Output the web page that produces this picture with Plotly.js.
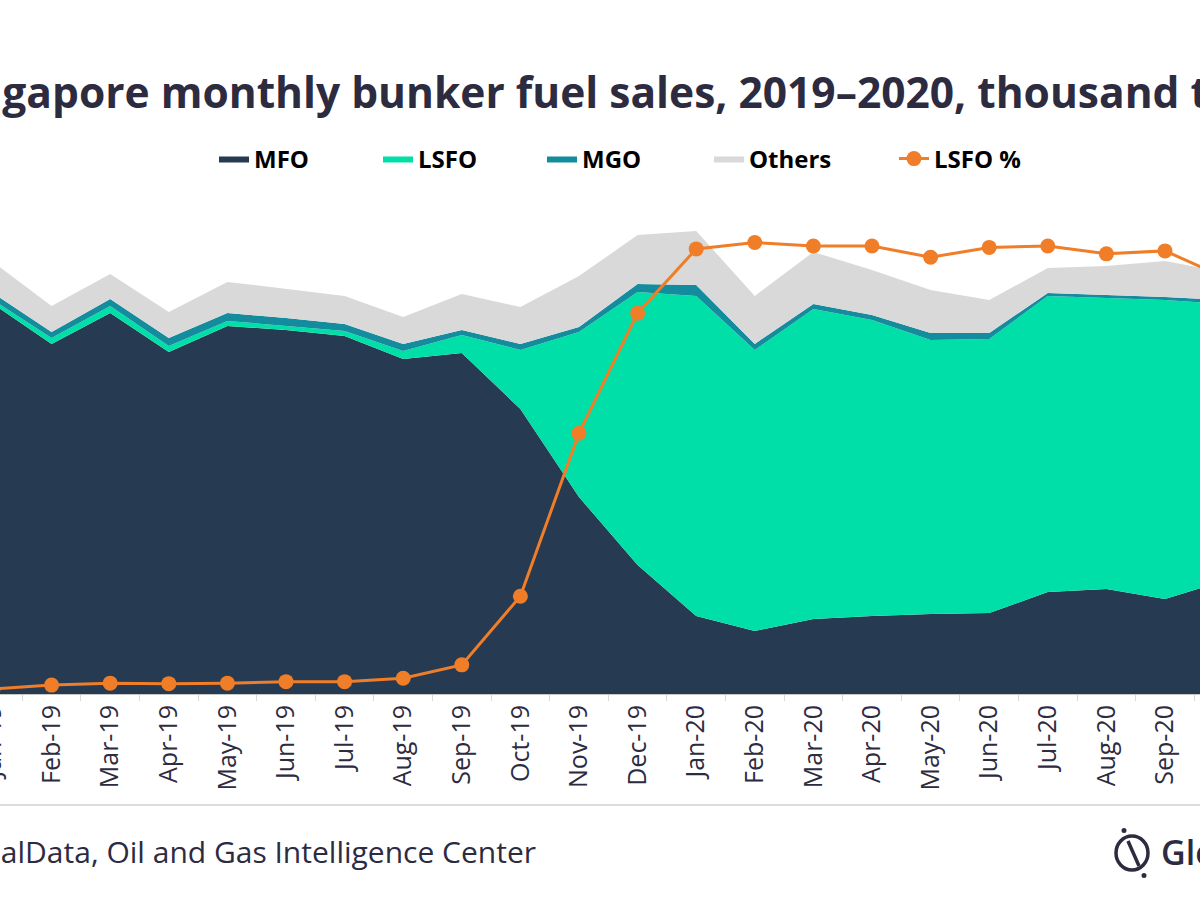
<!DOCTYPE html>
<html>
<head>
<meta charset="utf-8">
<script src="https://cdn.plot.ly/plotly-3.0.1.min.js"></script>
<style>
  html, body { margin:0; padding:0; width:1200px; height:900px; overflow:hidden; background:#fff; }
  #wrap { position:absolute; left:-200px; top:0; width:1500px; height:900px; }
</style>
</head>
<body>
<div id="wrap"></div>
<script>
// Data (thousand tonnes)
const months = ['Jan-19','Feb-19','Mar-19','Apr-19','May-19','Jun-19','Jul-19','Aug-19','Sep-19','Oct-19','Nov-19','Dec-19',
                'Jan-20','Feb-20','Mar-20','Apr-20','May-20','Jun-20','Jul-20','Aug-20','Sep-20','Oct-20'];
const mfo    = [3632,3259,3548,3185,3427,3390,3334,3120,3175,2654,1834,1201, 726, 587, 698, 726, 745, 754, 950, 978, 885,1052];
const lsfo   = [  37,  56,  65,  56,  47,  37,  47,  74, 168, 549,1536,2542,2980,2617,2887,2756,2551,2551,2756,2710,2784,2579];
const mgo    = [  65,  56,  65,  74,  74,  74,  65,  65,  47,  56,  47,  74, 102,  56,  47,  47,  65,  56,  28,  28,  28,  37];
const others = [ 289, 242, 233, 242, 289, 270, 261, 251, 335, 345, 475, 456, 503, 447, 484, 419, 400, 307, 233, 270, 335, 261];
const lsfoPct= [ 1.0, 1.8, 2.2, 2.1, 2.2, 2.5, 2.5, 3.2, 5.9,19.8,52.8,77.1,90.1,91.4,90.7,90.7,88.4,90.4,90.7,89.1,89.7,84.4];

const dark = '#2d2b3f';
const FONT = 'Open Sans, Noto Sans, sans-serif';
function area(name, y, color) {
  return {x: months, y: y, name: name, type:'scatter', mode:'lines', stackgroup:'one',
          line:{width:0, color:color}, fillcolor:color, hoverinfo:'skip', legend:'legend'};
}
const traces = [
  area('MFO', mfo, '#263a51'),
  area('LSFO', lsfo, '#00dfa7'),
  area('MGO', mgo, '#138c9e'),
  Object.assign(area('Others', others, '#d9d9d9'), {legend:'legend2'}),
  {x: months, y: lsfoPct, name:'LSFO %', type:'scatter', mode:'lines+markers', yaxis:'y2',
   line:{color:'#f07d28', width:3}, marker:{color:'#f07d28', size:15}, hoverinfo:'skip', legend:'legend2'}
];

// helpers: page px -> paper coordinates (the figure is 200px wider on the left than the view)
const W = 1500, H = 900, ML = 160, MT = 200, MB = 206;
const PW = W - ML, PH = H - MT - MB;
const px = p => (p + 200 - ML) / PW;
const py = p => (H - MB - p) / PH;

const legendFont = {family:FONT, size:24, color:'#000', weight:'bold'};
const layout = {
  width: W, height: H,
  margin:{l:ML, r:0, t:MT, b:MB},
  paper_bgcolor:'#fff', plot_bgcolor:'#fff',
  title:{text:'Singapore monthly bunker fuel sales, 2019–2020, thousand tonnes',
         font:{family:FONT, size:42.5, color:dark, weight:'bold'},
         xref:'container', x:(200-62)/W, xanchor:'left', yref:'container', y:1-93/H, yanchor:'middle'},
  xaxis:{type:'category', range:[-0.563, -0.563 + PW/58.6], showgrid:false, zeroline:false,
         showline:true, linecolor:'#c8c8c8', linewidth:1,
         ticks:'outside', tickson:'boundaries', ticklen:6, tickcolor:'#d9d9d9',
         tickangle:-90, tickfont:{family:FONT, size:25, color:dark}},
  yaxis:{range:[0,4600], showgrid:false, zeroline:false, showticklabels:false, showline:false},
  yaxis2:{range:[0,100], overlaying:'y', side:'right', visible:false, showgrid:false},
  showlegend:true,
  legend:{orientation:'h', xref:'container', x:(214+200)/W, xanchor:'left', yref:'container', y:1-159/H, yanchor:'middle',
          font:legendFont, entrywidth:119, entrywidthmode:'pixels', bgcolor:'rgba(0,0,0,0)', traceorder:'normal'},
  legend2:{orientation:'h', xref:'container', x:(709+200)/W, xanchor:'left', yref:'container', y:1-159/H, yanchor:'middle',
          font:legendFont, entrywidth:140, entrywidthmode:'pixels', bgcolor:'rgba(0,0,0,0)', traceorder:'normal'},
  shapes:[
    {type:'line', xref:'paper', yref:'paper', x0:px(-10), x1:px(1210), y0:py(805), y1:py(805),
     line:{color:'#dcdcdc', width:2}},
    {type:'circle', xref:'paper', yref:'paper', x0:px(1116), x1:px(1148), y0:py(836), y1:py(870),
     line:{color:dark, width:3.5}},
    {type:'line', xref:'paper', yref:'paper', x0:px(1128), x1:px(1139), y0:py(841), y1:py(866),
     line:{color:dark, width:3.5}},
    {type:'circle', xref:'paper', yref:'paper', x0:px(1121.5), x1:px(1126.5), y0:py(828), y1:py(833),
     fillcolor:dark, line:{width:0}},
    {type:'circle', xref:'paper', yref:'paper', x0:px(1141.5), x1:px(1146.5), y0:py(873), y1:py(878),
     fillcolor:dark, line:{width:0}}
  ],
  annotations:[
    {text:'Source: GlobalData, Oil and Gas Intelligence Center', xref:'paper', yref:'paper',
     x:px(-179), xanchor:'left', y:py(851), yanchor:'middle', showarrow:false,
     font:{family:FONT, size:30, color:dark}},
    {text:'GlobalData', xref:'paper', yref:'paper', x:px(1159), xanchor:'left', y:py(852), yanchor:'middle',
     showarrow:false, font:{family:FONT, size:34, color:dark, weight:600}}
  ]
};
Plotly.newPlot('wrap', traces, layout, {displayModeBar:false, staticPlot:true});
</script>
</body>
</html>
